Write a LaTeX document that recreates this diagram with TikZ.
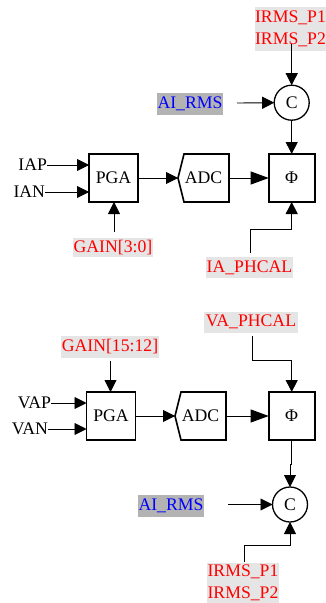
\documentclass[tikz,border=0pt]{standalone}
\usepackage{fontspec}
\setmainfont{Liberation Serif}
\usetikzlibrary{arrows.meta,calc}
\definecolor{lblgrey}{HTML}{E5E5E5}
\definecolor{regrey}{HTML}{B3B3B3}
\tikzset{
  every node/.style={font=\fontsize{17.7}{22}\selectfont,inner sep=0pt,outer sep=0pt},
  blockbox/.style={draw=black,line width=1.6pt,minimum width=#1,minimum height=48pt},
  adcbox/.style={minimum width=51pt,minimum height=48pt},
  mulcirc/.style={circle,draw=black,line width=1.3pt,minimum size=35pt},
  sig/.style={text=black},
  reg/.style={fill=lblgrey,text=red,minimum width=#1,minimum height=21pt},
  rms/.style={fill=regrey,text=blue,minimum width=66pt,minimum height=22pt},
  conn/.style={draw=black,line width=0.9pt,-{Triangle[length=12pt,width=12pt]}},
  longconn/.style={draw=black,line width=0.9pt,-{Triangle[length=18pt,width=13pt]}},
  adcline/.style={draw=black,line width=1.6pt,line join=miter}
}
\begin{document}
\begin{tikzpicture}[x=1pt,y=-1pt]
\useasboundingbox (0,0) rectangle (326,603);
% upper channel
\node[reg=71pt,minimum height=44pt,align=left] (irms1) at (290.5,29) {IRMS\_P1\\IRMS\_P2};
\node[rms] (rms1) at (190,104) {AI\_RMS};
\node[mulcirc] (c1) at (291.7,102.7) {C};
\node[blockbox=46pt] (phi1) at (291.7,178) {Φ};
\node[blockbox=49pt] (pga1) at (113.5,178) {PGA};
\node[adcbox] (adc1) at (203.5,178) {ADC};
\node[sig,anchor=east] (iap) at (47,165) {IAP};
\node[sig,anchor=east] (ian) at (45,192) {IAN};
\node[reg=80pt,minimum height=19pt] (gain1) at (113,247.5) {GAIN[3:0]};
\node[reg=87pt] (ph1) at (249.5,267.5) {IA\_PHCAL};
\coordinate (irms1out) at (291.7,44);
\coordinate (rms1out) at (237,103);
\coordinate (gain1out) at (114,232);
\coordinate (ph1out) at (250,253);
\coordinate (ph1turn) at (250,229);
\draw[adcline] (adc1.west) -- ($(adc1.north west)+(6,0)$) -- (adc1.north east) -- (adc1.south east) -- ($(adc1.south west)+(6,0)$) -- cycle;
\draw[conn] (irms1out) -- (c1.north);
\draw[conn] (rms1out) -- (c1.west);
\draw[conn] (c1.south) -- (phi1.north);
\draw[conn] (iap.east) -- (pga1.west |- iap.east);
\draw[conn] (ian.east) -- (pga1.west |- ian.east);
\draw[conn] (gain1out) -- (gain1out |- pga1.south);
\draw[conn] (pga1.east) -- (adc1.west);
\draw[longconn] (adc1.east) -- (phi1.west);
\draw[conn] (ph1out) -- (ph1turn) -| (phi1.south);
% lower channel
\node[reg=94pt] (ph2) at (251,322) {VA\_PHCAL};
\node[reg=98pt,minimum height=22pt] (gain2) at (110,347) {GAIN[15:12]};
\node[blockbox=49pt] (pga2) at (111,416) {PGA};
\node[adcbox] (adc2) at (200.5,416) {ADC};
\node[blockbox=46pt] (phi2) at (291.7,416) {Φ};
\node[sig,anchor=east] (vap) at (51,403) {VAP};
\node[sig,anchor=east] (van) at (48,429) {VAN};
\node[mulcirc] (c2) at (290,504.5) {C};
\node[rms] (rms2) at (171,505.5) {AI\_RMS};
\node[reg=72pt,minimum height=40pt,align=left] (irms2) at (243,583) {IRMS\_P1\\IRMS\_P2};
\coordinate (ph2out) at (252,336);
\coordinate (ph2turn) at (252,360);
\coordinate (gain2out) at (110.5,361);
\coordinate (rms2out) at (228,504.5);
\coordinate (irms2out) at (244,562);
\coordinate (irms2turn) at (244,545);
\coordinate (jog) at (290,464);
\draw[adcline] (adc2.west) -- ($(adc2.north west)+(6,0)$) -- (adc2.north east) -- (adc2.south east) -- ($(adc2.south west)+(6,0)$) -- cycle;
\draw[conn] (ph2out) -- (ph2turn) -| (phi2.north);
\draw[conn] (gain2out) -- (gain2out |- pga2.north);
\draw[conn] (vap.east) -- (pga2.west |- vap.east);
\draw[conn] (van.east) -- (pga2.west |- van.east);
\draw[conn] (pga2.east) -- (adc2.west);
\draw[longconn] (adc2.east) -- (phi2.west);
\draw[conn] (phi2.south) |- (jog) -- (c2.north);
\draw[conn] (rms2out) -- (c2.west);
\draw[conn] (irms2out) -- (irms2turn) -| (c2.south);
\end{tikzpicture}
\end{document}
